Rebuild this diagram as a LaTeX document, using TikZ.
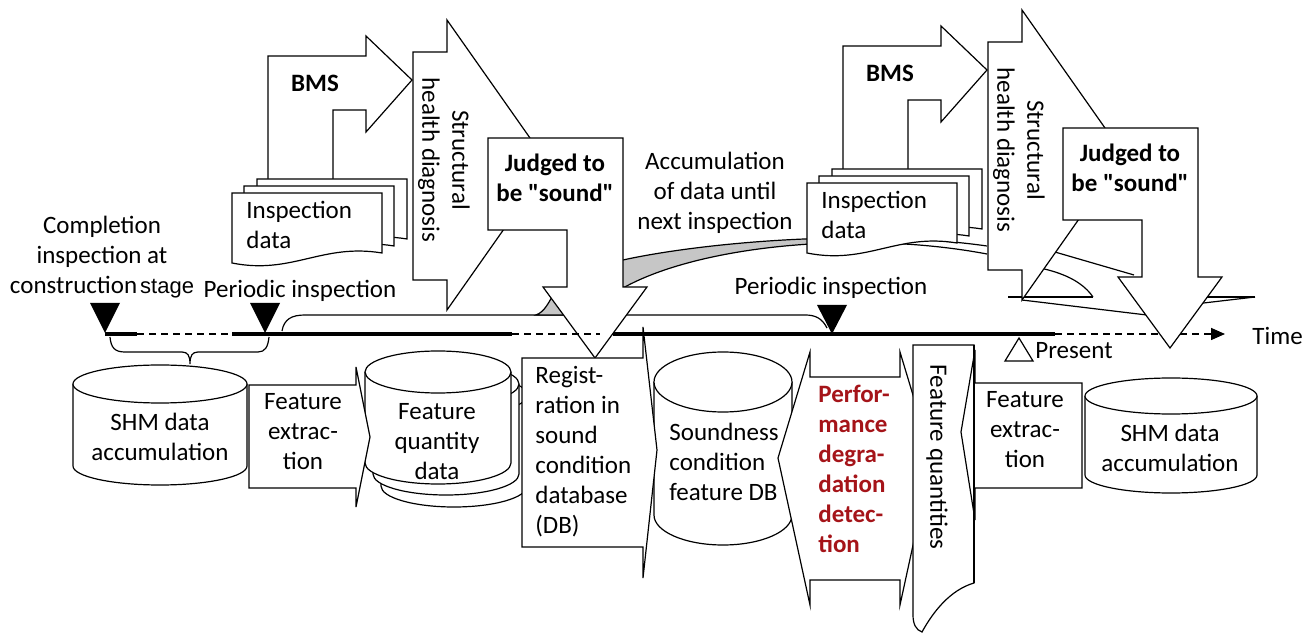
\documentclass[tikz,border=0pt]{standalone}
\usepackage{fontspec}
\setmainfont{Carlito}[Ligatures=TeXOff]
\newfontfamily\stagefont{Liberation Sans}[Ligatures=TeXOff]
\usetikzlibrary{arrows.meta}

\definecolor{bandgray}{RGB}{198,198,198}
\definecolor{alertred}{RGB}{165,20,25}

\tikzset{
  outline/.style={draw=black, line width=0.6pt, fill=white, line join=miter},
  edge line/.style={draw=black, line width=0.6pt},
  label text/.style={font=\fontsize{12.5pt}{15pt}\selectfont, inner sep=0pt},
  bold text/.style={font=\fontsize{12.5pt}{15pt}\selectfont\bfseries, inner sep=0pt},
  axis thick/.style={line width=2pt},
  axis dashed/.style={line width=0.8pt, dash pattern=on 3.5pt off 2.5pt},
}

% stacked sheet of paper with a wavy lower edge (top-left corner given)
\newcommand\docsheet[2]{%
  \draw[outline] (#1,#2) -- ++(150,0) -- ++(0,60)
    .. controls +(-60,-10) and +(60,12) .. ++(-150,10) -- cycle;
}

% cylinder: left x, right x, centre y of top ellipse, y radius, centre y of bottom ellipse
\newcommand\drawcyl[5]{%
  \pgfmathsetmacro\cylrx{(#2-#1)/2}%
  \pgfmathsetmacro\cylcx{(#2+#1)/2}%
  \draw[outline] (#1,#3) -- (#1,#5)
    arc[start angle=180, end angle=0, x radius=\cylrx, y radius=#4] -- (#2,#3);
  \draw[outline] (\cylcx,#3) ellipse[x radius=\cylrx, y radius=#4];
}

% BMS arrow, inspection data, diagnosis arrow and judgement arrow
\newcommand\inspectiongroup[1]{%
  \draw[outline] (268,200) -- (268,56) -- (366,56) -- (366,36) -- (412,80)
    -- (366,132) -- (366,110) -- (333,110) -- (333,200) -- cycle;
  \node[bold text] (bms#1) at (315,83) {BMS};
  \docsheet{257}{179}%
  \docsheet{244}{186}%
  \docsheet{232}{193}%
  \node[label text, anchor=west, align=left] (inspdata#1) at (246,225) {Inspection\\data};
  \draw[outline] (413,52) -- (447,52) -- (447,20) -- (549,165) -- (447,310)
    -- (447,280) -- (413,280) -- cycle;
  \node[label text, rotate=-90, align=center] (diagnosis#1) at (444,160) {Structural\\health diagnosis};
  \draw[outline] (488,138) -- (623,138) -- (623,287) -- (647,287) -- (595,358)
    -- (543,287) -- (567,287) -- (567,230) -- (488,230) -- cycle;
  \node[bold text, align=center] (judged#1) at (555,178) {Judged to\\be "sound"};
}

\begin{document}
\begin{tikzpicture}[x=0.5pt, y=-0.5pt]
\useasboundingbox (0,0) rectangle (1314,636);

% ---- band of data accumulated until the next inspection
\begin{scope}
  \clip (600,200) rectangle (900,300);
  \fill[bandgray] (623,260) .. controls (700,243) and (860,228) .. (987,246)
    -- (987,254) .. controls (860,230) and (700,245) .. (623,288) -- cycle;
\end{scope}
\draw[edge line] (623,260) .. controls (700,243) and (860,228) .. (987,246);
\draw[edge line] (987,254) .. controls (860,230) and (700,245) .. (623,288);

% ---- interval between the periodic inspections
\draw[edge line] (282,331) .. controls (284,319) and (292,315) .. (305,315)
  -- (805,315) .. controls (815,315) and (822,318) .. (827,328);
\draw[edge line, fill=bandgray] (536,315) .. controls (544,312) and (548,304) .. (553,295)
  -- (575,315) -- cycle;

% ---- traces below the second diagnosis
\draw[edge line] (1048,250) -- (1134,275);
\draw[edge line] (1040,268) .. controls (1068,274) and (1084,284) .. (1093,297);
\draw[edge line] (1008,297) -- (1093,297);
\draw[edge line] (1022,300) -- (1155,316);
\draw[edge line] (1195,297) -- (1255,297);
\draw[edge line] (1195,304) -- (1255,297);

% ---- the two inspection cycles
\inspectiongroup{a}
\begin{scope}[shift={(575,-10)}]
  \inspectiongroup{b}
\end{scope}

\node[label text, align=center] (accum) at (715,193) {Accumulation\\of data until\\next inspection};

% ---- time axis
\draw[axis thick] (105,334) -- (137,334);
\draw[axis dashed] (137,334) -- (232,334);
\draw[axis thick] (232,334) -- (512,334);
\draw[axis dashed] (512,334) -- (600,334);
\draw[axis thick] (613,334) -- (1055,334);
\draw[axis dashed] (1055,334) -- (1160,334);
\draw[axis dashed, -{Triangle[length=7pt,width=6pt]}] (1180,334) -- (1225,334);
\node[label text, anchor=west] (time) at (1252,336) {Time};

% inspection markers
\fill (90,303) -- (120,303) -- (105,333) -- cycle;
\fill (250,303) -- (280,303) -- (265,333) -- cycle;
\fill (817,305) -- (847,305) -- (832,334) -- cycle;
\draw[edge line] (1005,361) -- (1033,361) -- (1019,338) -- cycle;
\node[label text, anchor=west] (present) at (1035,351) {Present};

\node[label text, align=center] (completion) at (102,257)
  {Completion\\inspection at\\construction\hspace{1.5pt}{\stagefont\fontsize{11pt}{15pt}\selectfont stage}};
\node[label text] (periodic1) at (300,291) {Periodic inspection};
\node[label text] (periodic2) at (831,288) {Periodic inspection};

% brace under the first monitoring period
\draw[edge line] (110,337) .. controls (111,348) and (115,352) .. (125,352) -- (182,352)
  .. controls (188,352) and (190,356) .. (190,364)
  .. controls (190,356) and (192,352) .. (198,352) -- (258,352)
  .. controls (265,352) and (268,347) .. (269,337);

% ---- processing chain
\drawcyl{73}{247}{384}{19}{466}
\node[label text, align=center] (shmL) at (160,437) {SHM data\\accumulation};

\drawcyl{381}{527}{395}{21}{486}
\drawcyl{373}{519}{384}{21}{474}
\drawcyl{365}{511}{372}{21}{463}
\node[label text, align=center] (fqdata) at (437,442) {Feature\\quantity\\data};

\draw[outline] (249,385) -- (356,385) -- (356,367) -- (370,437) -- (356,507)
  -- (356,488) -- (249,488) -- cycle;
\node[label text, align=center] (extractL) at (303,432) {Feature\\extrac-\\tion};

\drawcyl{654}{792}{382}{30}{515}
\node[label text, anchor=west, align=left] (sounddb) at (669,462) {Soundness\\condition\\feature DB};

\draw[outline] (522,358) -- (643,358) -- (643,327) -- (657,450) -- (643,578)
  -- (643,547) -- (522,547) -- cycle;
\node[label text, anchor=west, align=left] (reg) at (535,452)
  {Regist-\\ration in\\sound\\condition\\database\\(DB)};

\draw[outline] (778,458) -- (810,352) -- (810,377) -- (900,377) -- (900,352) -- (932,458)
  -- (900,605) -- (900,580) -- (810,580) -- (810,605) -- cycle;
\node[bold text, text=alertred, anchor=west, align=left] (perf) at (818,469)
  {Perfor-\\mance\\degra-\\dation\\detec-\\tion};

\draw[outline] (913,345) -- (974,345) -- (974,583)
  .. controls (950,590) and (933,612) .. (922,632)
  .. controls (916,630) and (913,624) .. (913,615) -- cycle;
\node[label text, rotate=-90] (fq) at (937,457) {Feature quantities};

\draw[outline] (1082,383) -- (975,383) -- (975,350) -- (961,432) -- (975,520)
  -- (975,488) -- (1082,488) -- cycle;
\draw[edge line] (974,345) -- (974,583);
\node[label text, align=center] (extractR) at (1025,430) {Feature\\extrac-\\tion};

\drawcyl{1085}{1257}{396}{18}{475}
\node[label text, align=center] (shmR) at (1170,448) {SHM data\\accumulation};
\end{tikzpicture}
\end{document}
